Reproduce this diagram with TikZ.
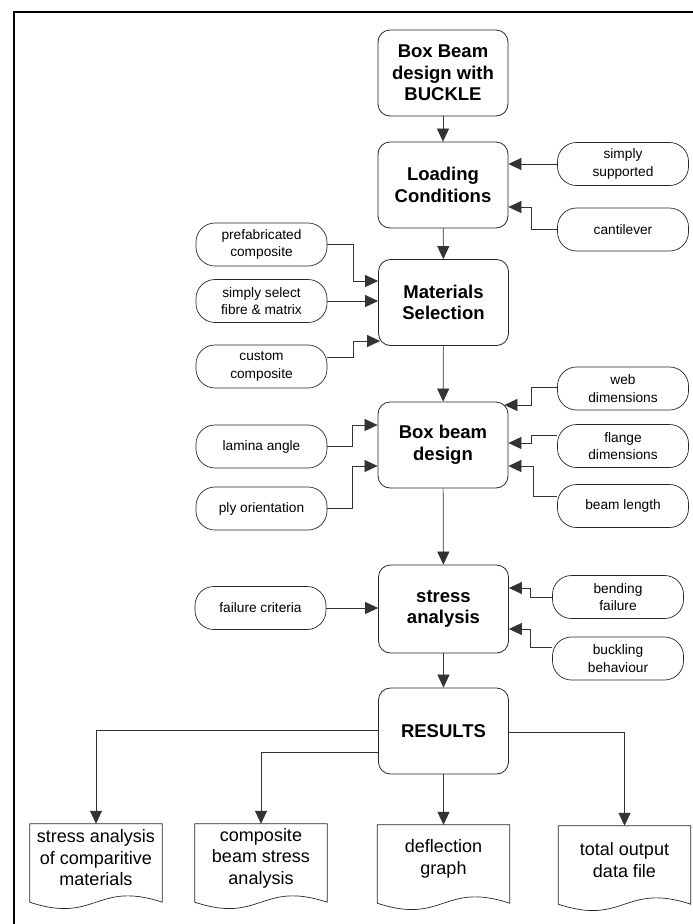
\documentclass[tikz,border=0pt]{standalone}
\usepackage{fontspec}
\setmainfont{Liberation Sans}
\usetikzlibrary{arrows.meta,calc}

\begin{document}
\begin{tikzpicture}[x=1pt,y=-1pt,
  stage/.style={draw=black!85, line width=0.8pt, rounded corners=12pt,
    minimum width=130pt, minimum height=86pt, inner sep=0pt, align=center,
    font=\fontsize{18.5}{21.5}\selectfont\bfseries},
  option/.style={draw=black!85, line width=0.7pt, rounded corners=19pt,
    minimum width=131pt, minimum height=43pt, inner sep=0pt, align=center,
    font=\fontsize{13.7}{17.5}\selectfont},
  report/.style={minimum width=132pt, minimum height=78pt, inner sep=0pt},
  reporttext/.style={align=center, font=\fontsize{18}{21.5}\selectfont, yshift=5pt},
  flow/.style={draw=black!80, line width=0.7pt, -{Triangle[length=13pt,width=12pt]}},
  outline/.style={draw=black!85, line width=0.7pt},
]
\useasboundingbox (0,0) rectangle (693,924);

% page frame
\draw[line width=1.6pt] (14,924) -- (14,12) -- (693,12);

% main stages
\node[stage] (b1) at (443,73)    {Box Beam\\design with\\BUCKLE};
\node[stage] (b2) at (443,185)   {Loading\\Conditions};
\node[stage] (b3) at (443.5,302.5) {Materials\\Selection};
\node[stage] (b4) at (443,445)   {Box beam\\design};
\node[stage, minimum height=88pt] (b5) at (443.5,609) {stress\\analysis};
\node[stage] (b6) at (443.5,731) {RESULTS};

% options feeding the stages
\node[option] (ss)     at (623,164)     {simply\\supported};
\node[option] (cant)   at (623,229.5)   {cantilever};
\node[option] (pref)   at (261.5,244.5) {prefabricated\\composite};
\node[option] (ssel)   at (261.5,301)   {simply select\\fibre \& matrix};
\node[option] (cust)   at (261.5,366.5) {custom\\composite};
\node[option] (web)    at (623,388.5)   {web\\dimensions};
\node[option] (flange) at (623,446)     {flange\\dimensions};
\node[option] (blen)   at (623,506)     {beam length};
\node[option] (lam)    at (261.5,446.5) {lamina angle};
\node[option] (ply)    at (261.5,508.5) {ply orientation};
\node[option] (fail)   at (260.5,608)   {failure criteria};
\node[option] (bend)   at (618,597)     {bending\\failure};
\node[option] (buck)   at (618,658.5)   {buckling\\behaviour};

% output documents
\node[report, label={[reporttext]center:{stress analysis\\of comparitive\\materials}}] (d1) at (96,863) {};
\node[report, label={[reporttext]center:{composite\\beam stress\\analysis}}] (d2) at (261,863) {};
\node[report, label={[reporttext]center:{deflection\\graph}}] (d3) at (443.5,864) {};
\node[report, label={[reporttext]center:{total output\\data file}}] (d4) at (624.5,865) {};

\foreach \d in {d1,d2,d3,d4}
  \draw[outline] (\d.north west) -- (\d.south west)
    .. controls ($(\d.south)+(0,22)$) and ($(\d.south)+(0,-22)$) .. (\d.south east)
    -- (\d.north east) -- cycle;

% main flow
\draw[flow] (b1) -- (b2);
\draw[flow] (b2) -- (b3);
\draw[flow] (b3) -- (b4);
\draw[flow] (b4) -- (b5);
\draw[flow] (b5) -- (b6);

% loading conditions
\draw[flow] (ss.west) -- (ss.west -| b2.east);
\draw[flow] (cant.west) -- ++(-26,0) |- ($(b2.east)+(0,22)$);

% materials
\draw[flow] (pref.east) -- ++(26,0) |- ($(b3.west)+(0,-21.5)$);
\draw[flow] (ssel.east) -- (ssel.east -| b3.west);
\draw[flow] ($(cust.east)+(0,-9.5)$) -- ++(26,0) |- ($(b3.west)+(2,38.5)$);

% box beam design
\draw[flow] ($(web.west)+(0,-1.5)$) -- ++(-26,0) |- ($(b4.east)+(-4,-40)$);
\draw[flow] ($(flange.west)+(0,-11)$) -- ++(-26,0) |- ($(b4.east)+(0,-2)$);
\draw[flow] ($(blen.west)+(0,-10)$) -- ++(-24,0) |- ($(b4.east)+(0,21)$);
\draw[flow] (lam.east) -- ++(25,0) |- ($(b4.west)+(0,-20)$);
\draw[flow] (ply.east) -- ++(25,0) |- ($(b4.west)+(0,21)$);

% stress analysis
\draw[flow] (fail.east) -- (fail.east -| b5.west);
\draw[flow] (bend.west) -- ++(-22,0) |- ($(b5.east)+(0,-21)$);
\draw[flow] ($(buck.west)+(0,-11.5)$) -- ++(-22,0) |- ($(b5.east)+(0,20)$);

% results to outputs
\draw[flow] ($(b6.west)+(0,-1)$) -| (d1.north);
\draw[flow] ($(b6.west)+(0,21)$) -| (d2.north);
\draw[flow] (b6.south) -- (b6.south |- d3.north);
\draw[flow] ($(b6.east)+(0,1)$) -| (d4.north);

\end{tikzpicture}
\end{document}
